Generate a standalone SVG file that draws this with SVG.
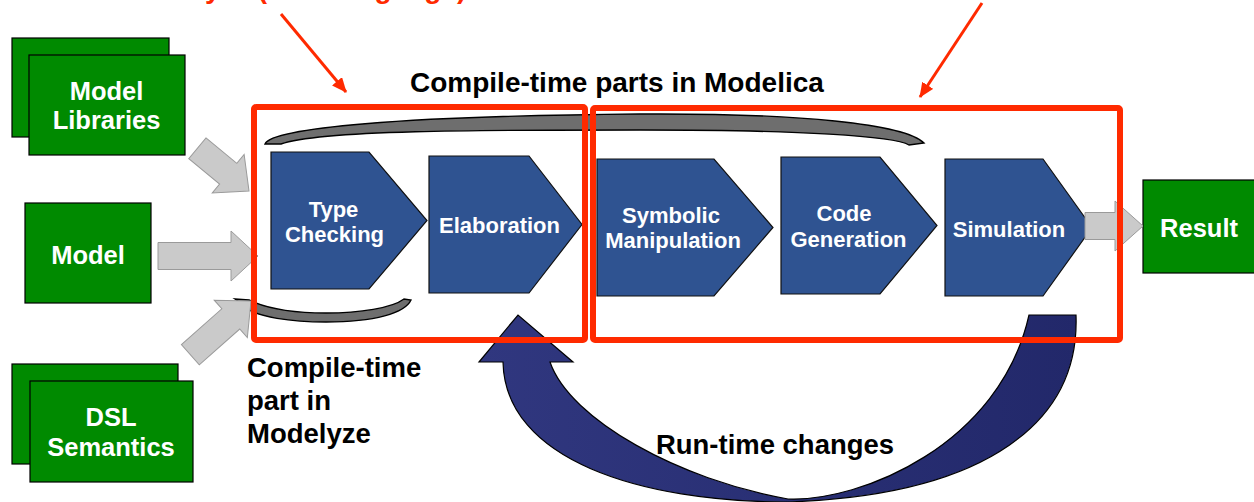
<svg xmlns="http://www.w3.org/2000/svg" width="1254" height="502" viewBox="0 0 1254 502">
<defs>
<style>
text{font-family:"Liberation Sans",Arial,sans-serif;font-weight:bold}
.g{fill:#008A00;stroke:#000;stroke-width:1.2}
.gt{fill:#fff;font-size:25.5px;text-anchor:middle}
.c{fill:#2F5391;stroke:#111;stroke-width:1.2}
.ct{fill:#fff;font-size:22px;text-anchor:middle}
.ga{fill:#CACACA;stroke:#9A9A9A;stroke-width:1}
.br{fill:#6E6E6E;stroke:#000;stroke-width:1.4}
.rf{fill:none;stroke:#FF2A00;stroke-width:6;stroke-linejoin:round}
.ra{stroke:#FF2A00;stroke-width:3;fill:none}
.bt{fill:#000;font-size:28px}
</style>
<marker id="rh" markerUnits="userSpaceOnUse" markerWidth="15" markerHeight="13" refX="14" refY="6.5" orient="auto">
<path d="M0,0 L15,6.5 L0,13 z" fill="#FF2A00"/>
</marker>
<linearGradient id="bg" x1="480" y1="0" x2="1080" y2="0" gradientUnits="userSpaceOnUse">
<stop offset="0" stop-color="#30377F"/>
<stop offset="1" stop-color="#22286A"/>
</linearGradient>
</defs>
<rect width="1254" height="502" fill="#fff"/>

<text x="124" y="-2.5" style="fill:#FF2A00;font-size:28px">Modelyze (host language)</text>

<g id="n-model-libraries">
<rect class="g" x="12" y="38" width="157" height="99"/>
<rect class="g" x="29" y="55" width="156" height="100"/>
<text class="gt" x="106.5" y="100">Model</text>
<text class="gt" x="106.5" y="129">Libraries</text>
</g>
<g id="n-model">
<rect class="g" x="25" y="203" width="126" height="100"/>
<text class="gt" x="88" y="264">Model</text>
</g>
<g id="n-dsl-semantics">
<rect class="g" x="12" y="364" width="166" height="100"/>
<rect class="g" x="30" y="381" width="163" height="101"/>
<text class="gt" x="111" y="426">DSL</text>
<text class="gt" x="111" y="456">Semantics</text>
</g>
<g id="n-result">
<rect class="g" x="1143" y="180" width="120" height="93"/>
<text class="gt" x="1199" y="237">Result</text>
</g>

<g id="brackets">
<path class="br" d="M265,144 C272,128 400,116 640,114 C800,113 905,124 924,143 L909,145 C895,136 800,130 640,130 C480,130 320,130 281,144 Z"/>
<path class="br" d="M235,299 L249,300 C268,309 295,313 326,313 C360,313 392,308 404,299 L411,300 C405,313 375,322 326,322 C290,322 258,317 246,308 C242,304 238,301 235,299 Z"/>
</g>

<g id="n-type-checking">
<path class="c" d="M271,152 L369,152 L427,220.5 L369,289 L271,289 Z"/>
<text class="ct" x="333.5" y="217">Type</text>
<text class="ct" x="334.5" y="242">Checking</text>
</g>
<g id="n-elaboration">
<path class="c" d="M429,156 L529,156 L582,224.5 L529,293 L429,293 Z"/>
<text class="ct" x="499.5" y="233">Elaboration</text>
</g>
<g id="n-symbolic-manipulation">
<path class="c" d="M597,159 L714,159 L773,227.5 L714,296 L597,296 Z"/>
<text class="ct" x="671" y="223">Symbolic</text>
<text class="ct" x="673" y="248">Manipulation</text>
</g>
<g id="n-code-generation">
<path class="c" d="M781,157 L880,157 L937,225.5 L880,294 L781,294 Z"/>
<text class="ct" x="844" y="221">Code</text>
<text class="ct" x="848.5" y="247">Generation</text>
</g>
<g id="n-simulation">
<path class="c" d="M945,159 L1043,159 L1092,227.5 L1043,296 L945,296 Z"/>
<text class="ct" x="1009" y="237">Simulation</text>
</g>

<g id="connectors">
<path class="ga" transform="translate(249,191) rotate(39.6)" d="M-67,-13.5 L-27,-13.5 L-27,-25 L0,0 L-27,25 L-27,13.5 L-67,13.5 Z"/>
<path class="ga" transform="translate(258,256)" d="M-100,-13.5 L-27,-13.5 L-27,-25 L0,0 L-27,25 L-27,13.5 L-100,13.5 Z"/>
<path class="ga" transform="translate(251,301) rotate(-41.5)" d="M-81,-13.5 L-27,-13.5 L-27,-25 L0,0 L-27,25 L-27,13.5 L-81,13.5 Z"/>
<path class="ga" transform="translate(1143,226)" d="M-58,-13.5 L-28,-13.5 L-28,-25 L0,0 L-28,25 L-28,13.5 L-58,13.5 Z"/>
<path fill="url(#bg)" stroke="#000" stroke-width="1.2" d="M1029,315 L1076,315 C1080,420 990,495 788,502 C640,502 505,460 503,362 L479,362 L518,315 L573,362 L550,362 C570,420 680,480 788,499 C860,502 1000,445 1029,315 Z"/>
<line class="ra" x1="281" y1="14" x2="346" y2="92" marker-end="url(#rh)"/>
<line class="ra" x1="982" y1="3" x2="920" y2="97" marker-end="url(#rh)"/>
</g>

<g id="frames">
<rect class="rf" x="254" y="107" width="331" height="233" rx="2"/>
<rect class="rf" x="593" y="108" width="527" height="232" rx="2"/>
</g>

<g id="labels">
<text class="bt" x="410" y="92">Compile-time parts in Modelica</text>
<text class="bt" x="247" y="377" style="font-size:27.5px">Compile-time</text>
<text class="bt" x="247" y="410" style="font-size:27.5px">part in</text>
<text class="bt" x="247" y="443" style="font-size:27.5px">Modelyze</text>
<text class="bt" x="656" y="454" style="font-size:27.5px" textLength="238" lengthAdjust="spacingAndGlyphs">Run-time changes</text>
</g>
</svg>
